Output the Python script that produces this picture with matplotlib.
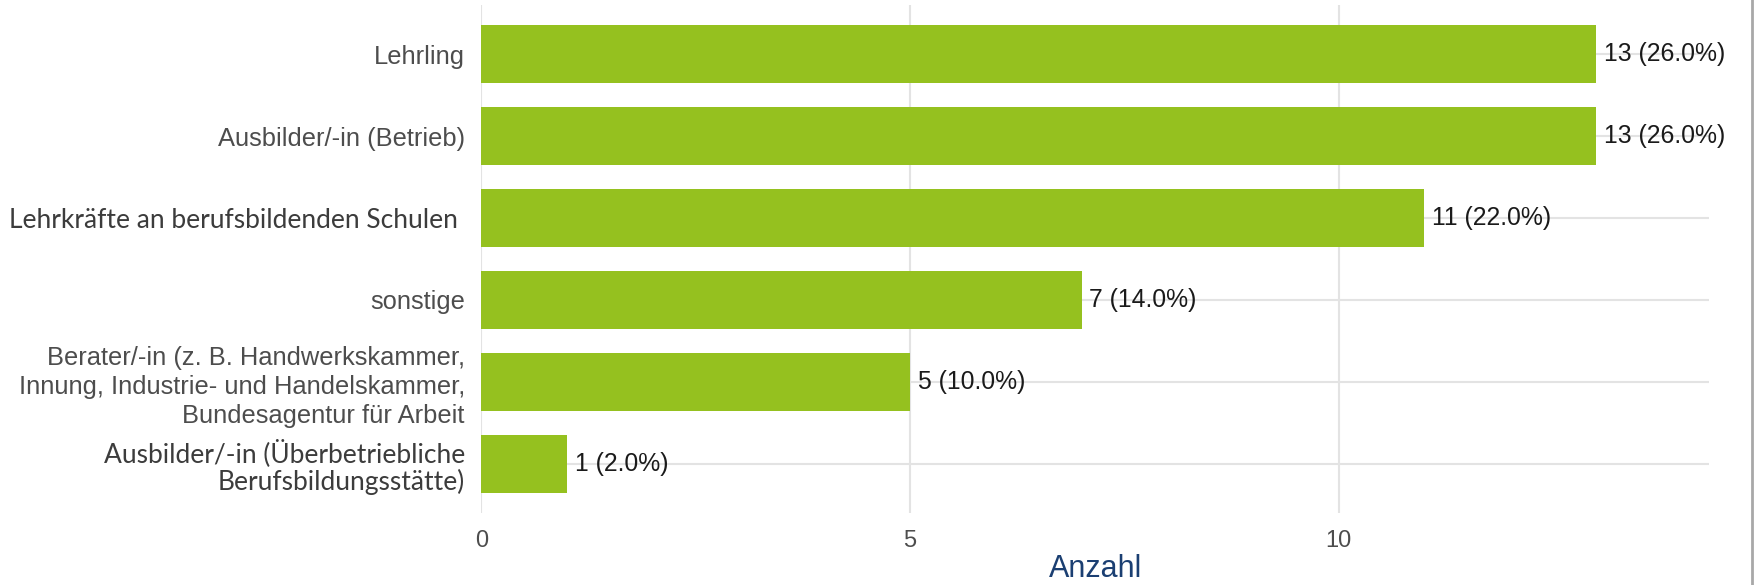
import numpy as np
import matplotlib
matplotlib.use("Agg")
import matplotlib.pyplot as plt

# Daten
kategorien = [
    "Lehrling",
    "Ausbilder/-in (Betrieb)",
    "Lehrkräfte an berufsbildenden Schulen ",
    "sonstige",
    "Berater/-in (z. B. Handwerkskammer,\nInnung, Industrie- und Handelskammer,\nBundesagentur für Arbeit",
    "Ausbilder/-in (Überbetriebliche\nBerufsbildungsstätte)",
]
anzahl = [13, 13, 11, 7, 5, 1]
prozent = [26.0, 26.0, 22.0, 14.0, 10.0, 2.0]
x_ticks = [0, 5, 10]

gruen = "#95c11f"
grau_text = "#4d4d4d"
grid_farbe = "#e3e3e3"

plt.rcParams["font.family"] = ["Liberation Sans", "DejaVu Sans"]

fig = plt.figure(figsize=(17.54, 5.85), dpi=100)
ax = fig.add_axes([481.5 / 1754, 1 - 513 / 585, (1709 - 481.5) / 1754, (513 - 5) / 585])

y = np.arange(len(kategorien))
ax.barh(y, anzahl, height=0.7, color=gruen, zorder=2)

# Beschriftung der Balken
for yi, n, p in zip(y, anzahl, prozent):
    ax.text(n + 0.09, yi, f"{n} ({p:.1f}%)", va="center", ha="left",
            fontsize=17.8, color="#1a1a1a", zorder=3)

ax.set_xlim(0, 14.32)
ax.set_ylim(5.6, -0.6)
ax.set_xticks(x_ticks)
ax.set_yticks(y)
ax.set_yticklabels(kategorien, fontsize=18.4, color=grau_text, linespacing=1.25)
# zwei Labels sind im Original in einer anderen Schrift
for i in (2, 5):
    lbl = ax.get_yticklabels()[i]
    lbl.set_fontfamily(["Lato", "DejaVu Sans"])
    lbl.set_fontsize(19)
    lbl.set_color("#3c3c3c")
    lbl.set_linespacing(1.1)

for t in ax.get_xticklabels():
    t.set_fontsize(17)
    t.set_color(grau_text)

ax.tick_params(axis="both", length=0)
ax.tick_params(axis="y", pad=12)
ax.tick_params(axis="x", pad=12)

ax.grid(True, color=grid_farbe, linewidth=1.5, zorder=0)
ax.set_axisbelow(True)
for s in ax.spines.values():
    s.set_visible(False)

ax.set_xlabel("Anzahl", fontsize=22, color="#1b3f72", labelpad=2)

# grauer Rand rechts
fig.add_artist(plt.Line2D([1752 / 1754, 1752 / 1754], [0, 1], color="#a8a8a8",
                          linewidth=2, transform=fig.transFigure))

fig.savefig("out.png", dpi=100)
